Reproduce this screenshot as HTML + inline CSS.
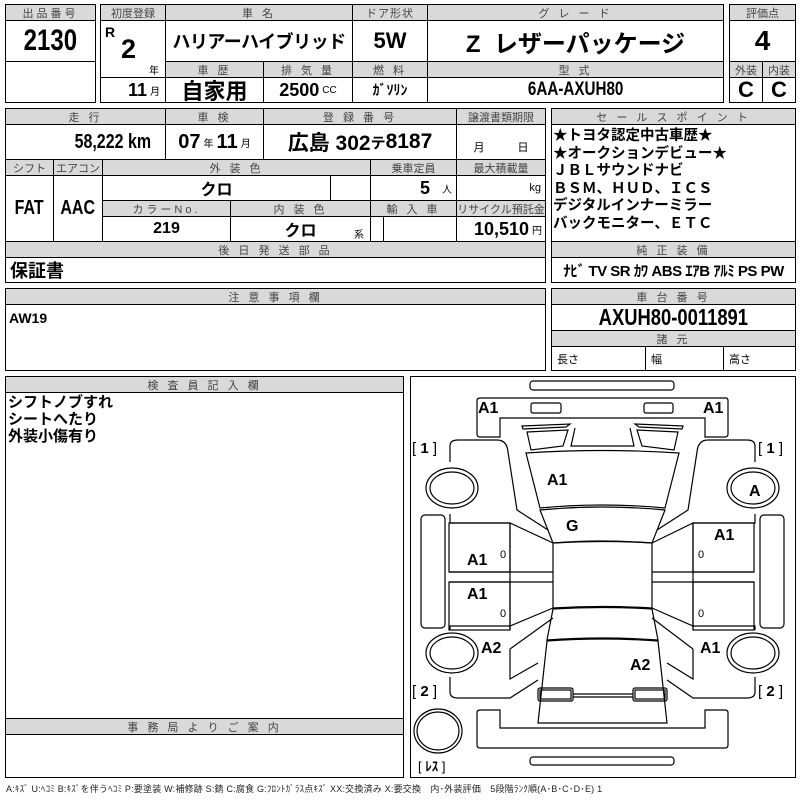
<!DOCTYPE html>
<html><head><meta charset="utf-8">
<style>
*{margin:0;padding:0;box-sizing:border-box}
body{width:800px;height:800px;background:#fff;position:relative;overflow:hidden;font-family:"Liberation Sans","Noto Sans CJK JP",sans-serif;color:#000}
.c{position:absolute;border:1px solid #000;display:flex;align-items:center;justify-content:center;white-space:nowrap;font-weight:bold;overflow:hidden}
.h{background:#d9d9d9;font-size:11px;color:#444;font-weight:normal;letter-spacing:3px}
.o{position:absolute;border:1.5px solid #000}
.t{position:absolute;white-space:nowrap;font-weight:bold}
.s{font-size:10px;font-weight:normal;margin-left:3px}
.n{display:inline-block;transform:scaleX(.8);transform-origin:center}
</style></head><body>
<div class="o" style="left:5px;top:4px;width:91px;height:99px"></div>
<div class="c h" style="left:5px;top:4px;width:91px;height:17px">出品番号</div>
<div class="c" style="left:5px;top:20px;width:91px;height:42px;font-size:30px"><span class="n">2130</span></div>
<div class="o" style="left:100px;top:4px;width:624px;height:99px"></div>
<div class="c h" style="left:100px;top:4px;width:66px;height:17px;letter-spacing:0">初度登録</div>
<div class="c h" style="left:165px;top:4px;width:188px;height:17px">車 名</div>
<div class="c h" style="left:352px;top:4px;width:76px;height:17px;letter-spacing:1px">ドア形状</div>
<div class="c h" style="left:427px;top:4px;width:297px;height:17px">グ レ ー ド</div>
<div class="c" style="left:100px;top:20px;width:66px;height:58px"></div>
<div class="t" style="left:105px;top:24px;font-size:14px">R</div>
<div class="t" style="left:121px;top:34px;font-size:27px">2</div>
<div class="t" style="left:149px;top:62px;font-size:10px;font-weight:normal">年</div>
<div class="c" style="left:165px;top:20px;width:188px;height:42px;font-size:18px;letter-spacing:-0.5px">ハリアーハイブリッド</div>
<div class="c" style="left:352px;top:20px;width:76px;height:42px;font-size:22px">5W</div>
<div class="c" style="left:427px;top:20px;width:297px;height:42px;font-size:24px">Z&nbsp;&nbsp;レザーパッケージ</div>
<div class="c h" style="left:165px;top:61px;width:99px;height:17px">車 歴</div>
<div class="c h" style="left:263px;top:61px;width:90px;height:17px">排 気 量</div>
<div class="c h" style="left:352px;top:61px;width:76px;height:17px">燃 料</div>
<div class="c h" style="left:427px;top:61px;width:297px;height:17px">型 式</div>
<div class="c" style="left:100px;top:77px;width:66px;height:26px;justify-content:flex-end;padding-right:5px;font-size:18px">11<span class="s">月</span></div>
<div class="c" style="left:165px;top:77px;width:99px;height:26px;font-size:22px">自家用</div>
<div class="c" style="left:263px;top:77px;width:90px;height:26px;font-size:18px">2500<span class="s">CC</span></div>
<div class="c" style="left:352px;top:77px;width:76px;height:26px;font-size:14px">ｶﾞｿﾘﾝ</div>
<div class="c" style="left:427px;top:77px;width:297px;height:26px;font-size:19px"><span class="n">6AA-AXUH80</span></div>
<div class="o" style="left:729px;top:4px;width:67px;height:99px"></div>
<div class="c h" style="left:729px;top:4px;width:67px;height:17px;letter-spacing:0">評価点</div>
<div class="c" style="left:729px;top:20px;width:67px;height:42px;font-size:28px">4</div>
<div class="c h" style="left:729px;top:61px;width:34px;height:17px;letter-spacing:0">外装</div>
<div class="c h" style="left:762px;top:61px;width:34px;height:17px;letter-spacing:0">内装</div>
<div class="c" style="left:729px;top:77px;width:34px;height:26px;font-size:22px">C</div>
<div class="c" style="left:762px;top:77px;width:34px;height:26px;font-size:22px">C</div>
<div class="o" style="left:5px;top:108px;width:541px;height:175px"></div>
<div class="c h" style="left:5px;top:108px;width:161px;height:17px">走 行</div>
<div class="c h" style="left:165px;top:108px;width:99px;height:17px">車 検</div>
<div class="c h" style="left:263px;top:108px;width:194px;height:17px">登 録 番 号</div>
<div class="c h" style="left:456px;top:108px;width:90px;height:17px;letter-spacing:0">譲渡書類期限</div>
<div class="c" style="left:5px;top:124px;width:161px;height:36px;justify-content:flex-end;padding-right:4px;font-size:20px"><span class="n">58,222 km</span></div>
<div class="c" style="left:165px;top:124px;width:99px;height:36px;font-size:20px">07<span class="s" style="margin-right:3px">年</span>11<span class="s">月</span></div>
<div class="c" style="left:263px;top:124px;width:194px;height:36px;font-size:21px">広島 302<span style="font-size:15px">テ</span>8187</div>
<div class="c" style="left:456px;top:124px;width:90px;height:36px;align-items:flex-end;font-size:11px;font-weight:normal;padding-bottom:4px">月　　　日</div>
<div class="c h" style="left:5px;top:159px;width:49px;height:17px;letter-spacing:0">シフト</div>
<div class="c h" style="left:53px;top:159px;width:50px;height:17px;letter-spacing:0">エアコン</div>
<div class="c h" style="left:102px;top:159px;width:269px;height:17px">外 装 色</div>
<div class="c h" style="left:370px;top:159px;width:87px;height:17px;letter-spacing:0">乗車定員</div>
<div class="c h" style="left:456px;top:159px;width:90px;height:17px;letter-spacing:0">最大積載量</div>
<div class="c" style="left:5px;top:175px;width:49px;height:67px;font-size:20px"><span class="n">FAT</span></div>
<div class="c" style="left:53px;top:175px;width:50px;height:67px;font-size:20px"><span class="n">AAC</span></div>
<div class="c" style="left:102px;top:175px;width:229px;height:26px;font-size:16px">クロ</div>
<div class="c" style="left:330px;top:175px;width:41px;height:26px"></div>
<div class="c" style="left:370px;top:175px;width:87px;height:26px;font-size:18px;justify-content:flex-end;padding-right:4px">5<span class="s" style="margin-left:12px">人</span></div>
<div class="c" style="left:456px;top:175px;width:90px;height:26px;justify-content:flex-end;padding-right:4px;font-size:11px;font-weight:normal">kg</div>
<div class="c h" style="left:102px;top:200px;width:129px;height:17px">カラーNo.</div>
<div class="c h" style="left:230px;top:200px;width:141px;height:17px">内 装 色</div>
<div class="c h" style="left:370px;top:200px;width:87px;height:17px">輸 入 車</div>
<div class="c h" style="left:456px;top:200px;width:90px;height:17px;letter-spacing:0">リサイクル預託金</div>
<div class="c" style="left:102px;top:216px;width:129px;height:26px;font-size:16px">219</div>
<div class="c" style="left:230px;top:216px;width:141px;height:26px;font-size:16px">クロ</div>
<div class="t" style="left:354px;top:226px;font-size:10px;font-weight:normal">系</div>
<div class="c" style="left:370px;top:216px;width:14px;height:26px"></div>
<div class="c" style="left:383px;top:216px;width:74px;height:26px"></div>
<div class="c" style="left:456px;top:216px;width:90px;height:26px;justify-content:flex-end;padding-right:3px;font-size:18px">10,510<span class="s">円</span></div>
<div class="c h" style="left:5px;top:241px;width:541px;height:17px">後 日 発 送 部 品</div>
<div class="c" style="left:5px;top:257px;width:541px;height:26px;justify-content:flex-start;padding-left:4px;font-size:18px">保証書</div>
<div class="o" style="left:551px;top:108px;width:245px;height:175px"></div>
<div class="c h" style="left:551px;top:108px;width:245px;height:17px">セ ー ル ス ポ イ ン ト</div>
<div class="t" style="left:553px;top:128px;font-size:14.5px;line-height:17.6px">★トヨタ認定中古車歴★<br>★オークションデビュー★<br>ＪＢＬサウンドナビ<br>ＢＳＭ、ＨＵＤ、ＩＣＳ<br>デジタルインナーミラー<br>バックモニター、ＥＴＣ</div>
<div class="c h" style="left:551px;top:241px;width:245px;height:17px">純 正 装 備</div>
<div class="c" style="left:551px;top:257px;width:245px;height:26px;font-size:15px;letter-spacing:-0.5px">ﾅﾋﾞ TV SR ｶﾜ ABS ｴｱB ｱﾙﾐ PS PW</div>
<div class="o" style="left:5px;top:288px;width:541px;height:83px"></div>
<div class="c h" style="left:5px;top:288px;width:541px;height:17px">注 意 事 項 欄</div>
<div class="t" style="left:9px;top:310px;font-size:14px">AW19</div>
<div class="o" style="left:551px;top:288px;width:245px;height:83px"></div>
<div class="c h" style="left:551px;top:288px;width:245px;height:17px">車 台 番 号</div>
<div class="c" style="left:551px;top:304px;width:245px;height:27px;font-size:23px;border-top:0;border-bottom:0"><span class="n">AXUH80-0011891</span></div>
<div class="c h" style="left:551px;top:330px;width:245px;height:17px">諸 元</div>
<div class="c" style="left:551px;top:346px;width:95px;height:25px;justify-content:flex-start;padding-left:5px;font-size:11px;font-weight:normal">長さ</div>
<div class="c" style="left:645px;top:346px;width:79px;height:25px;justify-content:flex-start;padding-left:5px;font-size:11px;font-weight:normal">幅</div>
<div class="c" style="left:723px;top:346px;width:73px;height:25px;justify-content:flex-start;padding-left:5px;font-size:11px;font-weight:normal">高さ</div>
<div class="o" style="left:5px;top:376px;width:399px;height:402px"></div>
<div class="c h" style="left:5px;top:376px;width:399px;height:17px">検 査 員 記 入 欄</div>
<div class="t" style="left:8px;top:394px;font-size:15px;line-height:17px">シフトノブすれ<br>シートへたり<br>外装小傷有り</div>
<div class="c h" style="left:5px;top:718px;width:399px;height:17px">事 務 局 よ り ご 案 内</div>
<div class="o" style="left:410px;top:376px;width:386px;height:402px"></div>
<svg style="position:absolute;left:0;top:0" width="800" height="800" fill="none" stroke="#000" stroke-width="1.2">
<rect x="530" y="381" width="144" height="9" rx="3"/>
<path d="M480 398 H726 Q728 398 728 401 V434 Q728 437 725 437 H705 V418 H500 V437 H480 Q477 437 477 434 V401 Q477 398 480 398Z"/>
<rect x="531" y="403" width="30" height="10" rx="2"/>
<rect x="644" y="403" width="29" height="10" rx="2"/>
<path d="M522 426 L570 424 L566 427 L523 429Z"/>
<path d="M527 432 L568 430 L563 446 L531 450Z"/>
<path d="M683 426 L635 424 L639 427 L682 429Z"/>
<path d="M678 432 L637 430 L642 446 L674 450Z"/>
<path d="M575 428 L571 446 L634 446 L630 428"/>
<path d="M526 453 Q602 448 679 453 L665 508 Q602 502 540 508Z"/>
<path d="M540 510 Q602 504 665 510 L652 543 Q602 539 553 543Z"/>
<path d="M553 543 Q602 540 652 543 V608 Q602 605 553 608Z"/>
<path d="M553 609 Q602 606 652 609 L658 640 Q602 636 547 640Z"/>
<path d="M547 641 Q602 637 658 641 L667 723 H538Z"/>
<rect x="538" y="688" width="35" height="13" rx="2"/><rect x="540" y="690" width="31" height="9"/>
<rect x="633" y="688" width="34" height="13" rx="2"/><rect x="635" y="690" width="30" height="9"/>
<path d="M573 694 H633 M573 697 H633"/>
<path d="M480 710 H500 V728 H705 V710 H725 Q728 710 728 713 V745 Q728 748 725 748 H480 Q477 748 477 745 V713 Q477 710 480 710Z"/>
<rect x="530" y="757" width="144" height="8" rx="3"/>
<path d="M450 446 Q450 440 458 440 H497 Q507 440 508 452 L517 510 L548 530 M450 446 V462"/>
<path d="M450 514 V523 H510 L553 543"/>
<path d="M450 630 V626 H510 L553 608"/>
<path d="M510 649 L553 618 M510 649 V679 L538 663"/>
<path d="M450 677 V692 Q450 698 458 698 H510 L538 680"/>
<rect x="421" y="515" width="24" height="113" rx="4"/>
<rect x="449" y="523" width="61" height="49"/><rect x="449" y="582" width="61" height="48"/>
<path d="M449 572 H553 M449 582 H553 M510 523 V630"/>
<path d="M755 446 Q755 440 747 440 H708 Q698 440 697 452 L688 510 L657 530 M755 446 V462"/>
<path d="M755 514 V523 H693 L652 543"/>
<path d="M755 630 V626 H693 L652 608"/>
<path d="M693 649 L652 618 M693 649 V679 L667 663"/>
<path d="M755 677 V692 Q755 698 747 698 H693 L667 680"/>
<rect x="760" y="515" width="24" height="113" rx="4"/>
<rect x="693" y="523" width="61" height="49"/><rect x="693" y="582" width="61" height="48"/>
<path d="M652 572 H754 M652 582 H754 M693 523 V630"/>
<ellipse cx="452" cy="488" rx="26" ry="20"/><ellipse cx="452" cy="488" rx="22" ry="16"/>
<ellipse cx="753" cy="488" rx="26" ry="20"/><ellipse cx="753" cy="488" rx="22" ry="16"/>
<ellipse cx="452" cy="653" rx="26" ry="20"/><ellipse cx="452" cy="653" rx="22" ry="16"/>
<ellipse cx="753" cy="653" rx="26" ry="20"/><ellipse cx="753" cy="653" rx="22" ry="16"/>
<ellipse cx="438" cy="731" rx="24" ry="22"/><ellipse cx="438" cy="731" rx="21" ry="19"/>
</svg>
<div class="t" style="left:478px;top:400px;font-size:16px">A1</div>
<div class="t" style="left:703px;top:400px;font-size:16px">A1</div>
<div class="t" style="left:412px;top:440px;font-size:15px;font-weight:normal">[ <b>1</b> ]</div>
<div class="t" style="left:758px;top:440px;font-size:15px;font-weight:normal">[ <b>1</b> ]</div>
<div class="t" style="left:547px;top:472px;font-size:16px">A1</div>
<div class="t" style="left:566px;top:518px;font-size:16px">G</div>
<div class="t" style="left:749px;top:483px;font-size:16px">A</div>
<div class="t" style="left:467px;top:552px;font-size:16px">A1</div>
<div class="t" style="left:467px;top:586px;font-size:16px">A1</div>
<div class="t" style="left:714px;top:527px;font-size:16px">A1</div>
<div class="t" style="left:500px;top:549px;font-size:11px;font-weight:normal">0</div>
<div class="t" style="left:500px;top:608px;font-size:11px;font-weight:normal">0</div>
<div class="t" style="left:698px;top:549px;font-size:11px;font-weight:normal">0</div>
<div class="t" style="left:698px;top:608px;font-size:11px;font-weight:normal">0</div>
<div class="t" style="left:481px;top:640px;font-size:16px">A2</div>
<div class="t" style="left:700px;top:640px;font-size:16px">A1</div>
<div class="t" style="left:630px;top:657px;font-size:16px">A2</div>
<div class="t" style="left:412px;top:683px;font-size:15px;font-weight:normal">[ <b>2</b> ]</div>
<div class="t" style="left:758px;top:683px;font-size:15px;font-weight:normal">[ <b>2</b> ]</div>
<div class="t" style="left:418px;top:756px;font-size:13px;font-weight:normal">[ <b>ﾚｽ</b> ]</div>
<div class="t" style="left:6px;top:782px;font-size:9px;font-weight:normal;color:#222;letter-spacing:0.2px">A:ｷｽﾞ U:ﾍｺﾐ B:ｷｽﾞを伴うﾍｺﾐ P:要塗装 W:補修跡 S:錆 C:腐食 G:ﾌﾛﾝﾄｶﾞﾗｽ点ｷｽﾞ XX:交換済み X:要交換　内･外装評価　5段階ﾗﾝｸ順(A･B･C･D･E) 1</div>
</body></html>
